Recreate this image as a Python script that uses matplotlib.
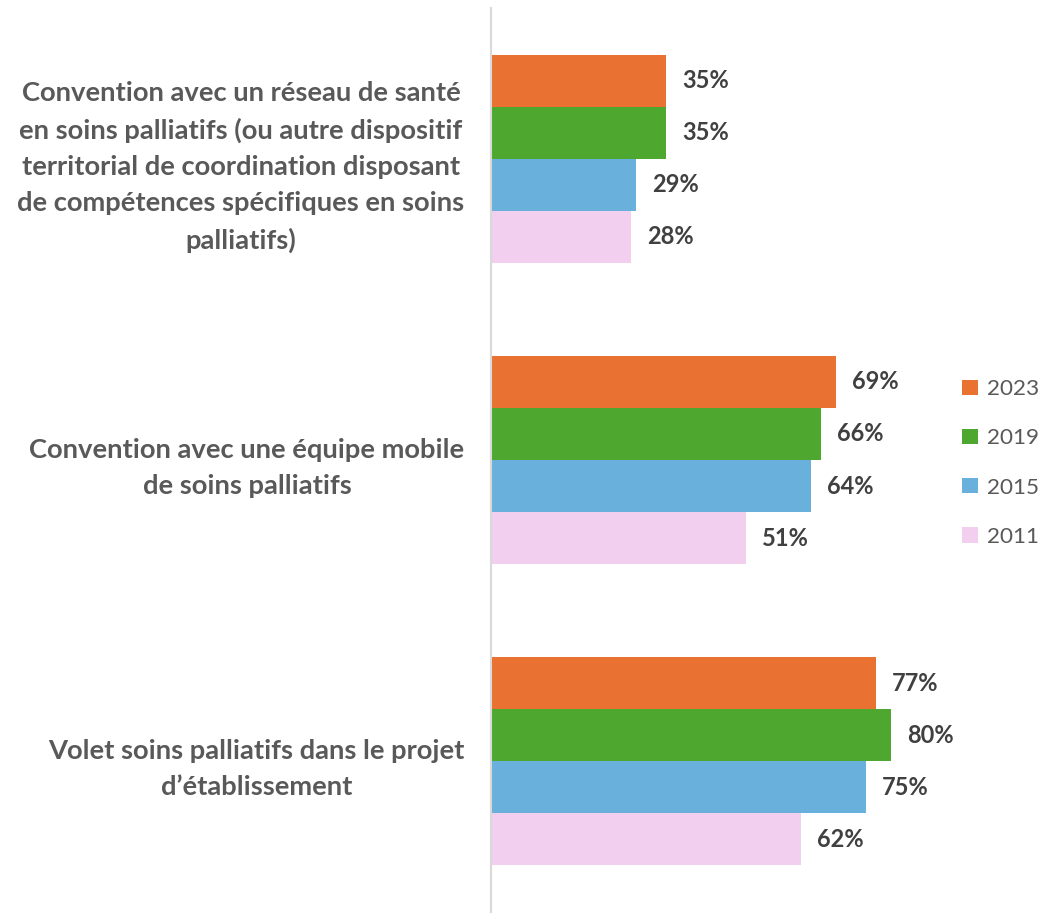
import matplotlib.pyplot as plt
import numpy as np

categories = [
    "Convention avec un réseau de santé\nen soins palliatifs (ou autre dispositif\nterritorial de coordination disposant\nde compétences spécifiques en soins\npalliatifs)",
    "Convention avec une équipe mobile\nde soins palliatifs",
    "Volet soins palliatifs dans le projet\nd\u2019établissement",
]
years = ["2023", "2019", "2015", "2011"]
values = {
    "2023": [35, 69, 77],
    "2019": [35, 66, 80],
    "2015": [29, 64, 75],
    "2011": [28, 51, 62],
}
colors = ["#E97132", "#4EA72E", "#6AB0DC", "#F2CEEF"]

plt.rcParams['font.family'] = ['Lato', 'DejaVu Sans']

fig = plt.figure(figsize=(10.43, 9.15), dpi=100)
# axes: x from 491px to 991px, y from 8px to 912px
ax = fig.add_axes([491/1043, 1 - 912/915, 500/1043, 904/915])

y = np.arange(len(categories))
h = 0.1726
for i, yr in enumerate(years):
    pos = y - 1.5*h + i*h
    bars = ax.barh(pos, values[yr], height=h, color=colors[i], label=yr)
    for b, v in zip(bars, values[yr]):
        ax.text(v + 3.2, b.get_y() + h/2, f"{v}%", va='center', ha='left',
                fontsize=17, fontweight='bold', color='#404040')

ax.set_xlim(0, 100)
ax.set_ylim(2.5, -0.5)
ax.set_xticks([])
ax.set_yticks(y)
ax.set_yticklabels(categories, fontsize=19.7, fontweight='bold', color='#595959',
                   linespacing=1.6)
for t in ax.get_yticklabels():
    t.set_multialignment('center')
ax.tick_params(axis='y', length=0, pad=19)
for s in ['top', 'right', 'bottom']:
    ax.spines[s].set_visible(False)
ax.spines['left'].set_color('#D9D9D9')
ax.spines['left'].set_linewidth(1.5)

leg = fig.legend(loc='center left', bbox_to_anchor=(951/1043, 1 - 463/915),
                 frameon=False, fontsize=16.2, handlelength=0.68, handleheight=0.68,
                 handletextpad=0.4, labelspacing=1.3, borderpad=0)
for t in leg.get_texts():
    t.set_color('#595959')

fig.savefig("out.png", dpi=100)
